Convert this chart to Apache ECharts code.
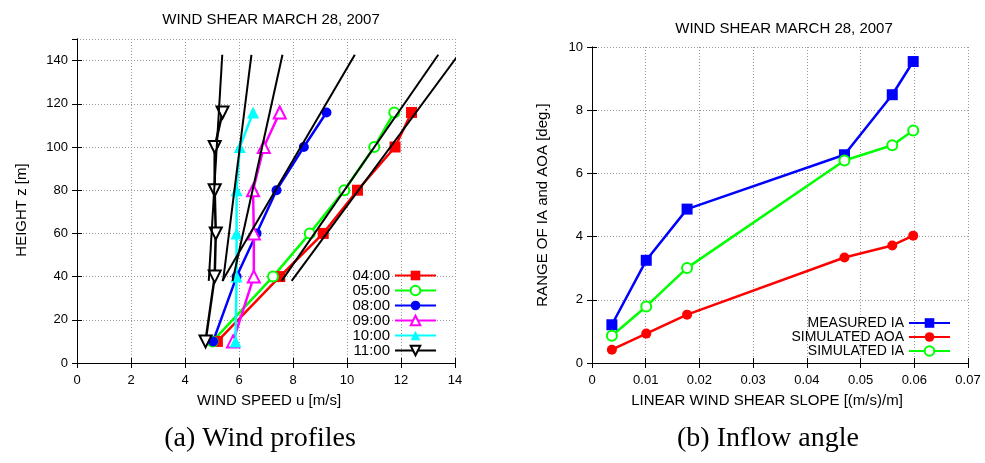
<!DOCTYPE html>
<html>
<head>
<meta charset="utf-8">
<script src="https://cdn.jsdelivr.net/npm/echarts@6/dist/echarts.min.js"></script>
<style>html,body{margin:0;padding:0;background:#fff}#c{width:985px;height:463px}</style>
</head>
<body>
<div id="c"></div>
<script>
// ---- Left chart: wind profiles ----
const heights = [10, 40, 60, 80, 100, 116];
const profileNames = ['04:00', '05:00', '08:00', '09:00', '10:00', '11:00'];
const speed0400 = [5.20, 7.51, 9.12, 10.39, 11.78, 12.39];
const speed0500 = [5.02, 7.26, 8.62, 9.90, 11.01, 11.75];
const speed0800 = [5.04, 5.91, 6.65, 7.39, 8.40, 9.24];
const speed0900 = [5.78, 6.55, 6.55, 6.52, 6.92, 7.51];
const speed1000 = [5.87, 5.91, 5.91, 5.91, 6.03, 6.52];
const speed1100 = [4.76, 5.10, 5.14, 5.10, 5.10, 5.39];
// linear fit lines (u at bottom and top height)
const fitHeights = [38, 142.7];
const fit0400 = [7.95, 14.13];
const fit0500 = [7.58, 13.38];
const fit0800 = [5.38, 10.29];
const fit0900 = [5.76, 7.61];
const fit1000 = [5.41, 6.46];
const fit1100 = [4.88, 5.38];
const speedTicks = [0, 2, 4, 6, 8, 10, 12, 14];
const heightTicks = [0, 20, 40, 60, 80, 100, 120, 140];

// ---- Right chart: inflow angle ----
const shearSlopes = [0.0037, 0.0101, 0.0177, 0.0470, 0.0559, 0.0598];
const measuredIA = [1.21, 3.25, 4.87, 6.59, 8.49, 9.54];
const simulatedAOA = [0.42, 0.93, 1.53, 3.34, 3.72, 4.03];
const simulatedIA = [0.86, 1.79, 3.01, 6.41, 6.89, 7.36];
const angleNames = ['MEASURED IA', 'SIMULATED AOA', 'SIMULATED IA'];

const FONT = 'Liberation Sans';
const pairs = (xs, ys) => xs.map((x, i) => [x, ys[i]]);

const speeds = [speed0400, speed0500, speed0800, speed0900, speed1000, speed1100];
const fits = [fit0400, fit0500, fit0800, fit0900, fit1000, fit1100];
const profColors = ['#ff0000', '#00ff00', '#0000ff', '#ff00ff', '#00ffff', '#000000'];
const profSymbols = ['rect', 'emptyCircle', 'circle', 'emptyTriangle', 'triangle', 'emptyTriangle'];
const profSizes = [11, 10, 10, 12, 12, 12];
const profRot = [0, 0, 0, 0, 0, 180];

function axisCommon(extra) {
  return Object.assign({
    type: 'value',
    axisLine: { show: true, lineStyle: { color: '#000', width: 1 } },
    axisTick: { show: true, inside: true, length: 5, lineStyle: { color: '#000' } },
    axisLabel: { color: '#000', fontSize: 13, fontFamily: FONT },
    splitLine: { show: false },
    nameTextStyle: { color: '#000', fontSize: 15, fontFamily: FONT }
  }, extra);
}
const gridLine = { show: true, lineStyle: { color: '#999', type: [1, 2], width: 1 } };

const series = [];
speeds.forEach((s, i) => {
  series.push({
    name: profileNames[i], type: 'line', xAxisIndex: 0, yAxisIndex: 0,
    data: pairs(s, heights),
    symbol: profSymbols[i], symbolSize: profSizes[i], symbolRotate: profRot[i],
    showAllSymbol: true,
    lineStyle: { color: profColors[i], width: 2.5 },
    itemStyle: { color: profColors[i], borderColor: profColors[i], borderWidth: (profSymbols[i].startsWith('empty') ? 2 : 0) },
    z: 3, animation: false
  });
});
fits.forEach((f, i) => {
  series.push({
    name: 'fit ' + profileNames[i], type: 'line', xAxisIndex: 0, yAxisIndex: 0,
    data: pairs(f, fitHeights), symbol: 'none',
    lineStyle: { color: '#000', width: 2 }, clip: true, z: 4, animation: false
  });
});
const angleData = [measuredIA, simulatedAOA, simulatedIA];
const angColors = ['#0000ff', '#ff0000', '#00ff00'];
const angSymbols = ['rect', 'circle', 'emptyCircle'];
const angSizes = [11, 10, 10];
angleData.forEach((d, i) => {
  series.push({
    name: angleNames[i], type: 'line', xAxisIndex: 2, yAxisIndex: 2,
    data: pairs(shearSlopes, d),
    symbol: angSymbols[i], symbolSize: angSizes[i],
    lineStyle: { color: angColors[i], width: 2.5 },
    itemStyle: { color: angColors[i], borderColor: angColors[i], borderWidth: (angSymbols[i].startsWith('empty') ? 2 : 0) },
    animation: false
  });
});

const option = {
  animation: false,
  backgroundColor: '#fff',
  title: [
    { text: 'WIND SHEAR MARCH 28, 2007', left: 266, top: 7, textAlign: 'center',
      textStyle: { fontSize: 15, fontWeight: 'normal', color: '#000', fontFamily: FONT } },
    { text: 'WIND SHEAR MARCH 28, 2007', left: 779, top: 16, textAlign: 'center',
      textStyle: { fontSize: 15, fontWeight: 'normal', color: '#000', fontFamily: FONT } }
  ],
  grid: [
    { left: 77, top: 39, width: 378, height: 324 },
    { left: 592, top: 47, width: 376, height: 316 }
  ],
  xAxis: [
    axisCommon({ gridIndex: 0, min: speedTicks[0], max: speedTicks[speedTicks.length - 1], interval: 2,
      name: 'WIND SPEED u [m/s]', nameLocation: 'middle', nameGap: 30,
      nameTextStyle: { color: '#000', fontSize: 15, fontFamily: FONT, padding: [0, 0, 0, 6] },
      axisLabel: { color: '#000', fontSize: 13, fontFamily: FONT, margin: 11 }, splitLine: gridLine }),
    axisCommon({ gridIndex: 0, position: 'top', min: 0, max: 14, interval: 2, axisLabel: { show: false } }),
    axisCommon({ gridIndex: 1, min: 0, max: 0.07, interval: 0.01,
      name: 'LINEAR WIND SHEAR SLOPE [(m/s)/m]', nameLocation: 'middle', nameGap: 30,
      nameTextStyle: { color: '#000', fontSize: 15, fontFamily: FONT, padding: [0, 26, 0, 0] },
      axisLabel: { color: '#000', fontSize: 13, fontFamily: FONT, margin: 11 }, splitLine: gridLine }),
    axisCommon({ gridIndex: 1, position: 'top', min: 0, max: 0.07, interval: 0.01, axisLabel: { show: false } })
  ],
  yAxis: [
    axisCommon({ gridIndex: 0, min: heightTicks[0], max: 150, interval: 20,
      name: 'HEIGHT z [m]', nameLocation: 'middle', nameGap: 48,
      nameTextStyle: { color: '#000', fontSize: 15, fontFamily: FONT, padding: [0, 18, 0, 0] },
      axisLabel: { color: '#000', fontSize: 13, fontFamily: FONT, margin: 9, showMaxLabel: false }, splitLine: gridLine }),
    axisCommon({ gridIndex: 0, position: 'right', min: 0, max: 150, interval: 20, axisLabel: { show: false } }),
    axisCommon({ gridIndex: 1, min: 0, max: 10, interval: 2,
      name: 'RANGE OF IA and AOA [deg.]', nameLocation: 'middle', nameGap: 42,
      axisLabel: { color: '#000', fontSize: 13, fontFamily: FONT, margin: 9 }, splitLine: gridLine }),
    axisCommon({ gridIndex: 1, position: 'right', min: 0, max: 10, interval: 2, axisLabel: { show: false } })
  ],
  legend: [
    { data: profileNames, orient: 'vertical', align: 'right', right: 548, top: 268, padding: 0,
      itemWidth: 41, itemHeight: 12, itemGap: 0,
      textStyle: { fontSize: 15, lineHeight: 15, color: '#000', fontFamily: FONT } },
    { data: angleNames, orient: 'vertical', align: 'right', right: 34, top: 316, padding: 0,
      itemWidth: 41, itemHeight: 12, itemGap: 0,
      textStyle: { fontSize: 14, lineHeight: 14, color: '#000', fontFamily: FONT } }
  ],
  graphic: [
    { type: 'text', x: 260, y: 439, style: { text: '(a) Wind profiles', font: '28px "Liberation Serif"', fill: '#000', textAlign: 'center', textVerticalAlign: 'middle' } },
    { type: 'text', x: 768, y: 439, style: { text: '(b) Inflow angle', font: '28px "Liberation Serif"', fill: '#000', textAlign: 'center', textVerticalAlign: 'middle' } }
  ],
  series: series
};
const chart = echarts.init(document.getElementById('c'), null, { renderer: 'canvas' });
chart.setOption(option);
</script>
</body>
</html>
